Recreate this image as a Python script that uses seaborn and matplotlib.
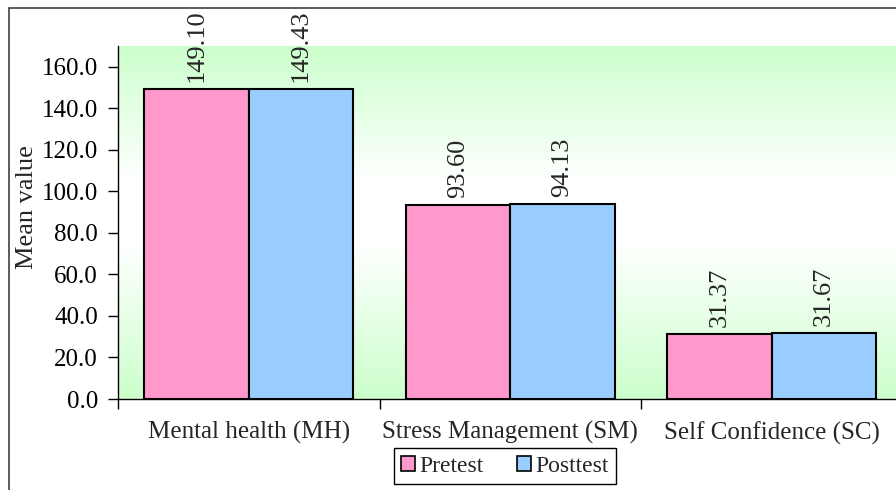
import numpy as np
import pandas as pd
import matplotlib
matplotlib.use("Agg")
import matplotlib.pyplot as plt
from matplotlib.colors import LinearSegmentedColormap
from matplotlib.patches import Rectangle
import seaborn as sns

# Mean scores per domain, before and after the intervention
domains = ["Mental health (MH)", "Stress Management (SM)", "Self Confidence (SC)"]
pretest = [149.10, 93.60, 31.37]
posttest = [149.43, 94.13, 31.67]
groups = ["Pretest", "Posttest"]
bar_colors = ["#FF99CC", "#99CCFF"]
y_ticks = [0, 20, 40, 60, 80, 100, 120, 140, 160]

df = pd.DataFrame({
    "Domain": domains * 2,
    "Mean": pretest + posttest,
    "Test": [groups[0]] * len(domains) + [groups[1]] * len(domains),
})

sns.set_style("ticks")
plt.rcParams["font.family"] = ["Liberation Serif", "DejaVu Serif"]
plt.rcParams["axes.linewidth"] = 1.0

fig = plt.figure(figsize=(8.96, 4.90), dpi=100)
ax = fig.add_axes([118 / 896, 91 / 490, 784.5 / 896, 353 / 490])

# soft green-white-green backdrop of the plotting area
ymax = 170
cmap = LinearSegmentedColormap.from_list(
    "bg", [(0.0, "#CCFFCC"), (0.38, "#FFFFFF"), (0.56, "#FFFFFF"), (1.0, "#CCFFCC")]
)
grad = np.linspace(0, 1, 256).reshape(-1, 1)
ax.imshow(grad, extent=[-0.5, 2.5, 0, ymax], aspect="auto", cmap=cmap,
          origin="upper", zorder=0, interpolation="bilinear")

sns.barplot(data=df, x="Domain", y="Mean", hue="Test", palette=bar_colors,
            saturation=1, edgecolor="black", linewidth=1.5, width=0.8, ax=ax, zorder=2)

for cont in ax.containers:
    ax.bar_label(cont, fmt="%.2f", rotation=90, padding=5, fontsize=19)

ax.set_xlim(-0.5, 2.5)
ax.set_ylim(0, ymax)
ax.set_yticks(y_ticks)
ax.set_yticklabels([f"{v:.1f}" for v in y_ticks], fontsize=18)
ax.tick_params(axis="y", direction="out", length=7, width=1, colors="black", pad=7.5)

# category labels centred under groups, tick marks between groups
ax.set_xticks(range(len(domains)))
ax.set_xticklabels(domains, fontsize=18)
ax.set_xticks([-0.5, 0.5, 1.5, 2.5], minor=True)
ax.tick_params(axis="x", which="major", length=0, pad=16)
ax.tick_params(axis="x", which="minor", direction="out", length=7, width=1, colors="black")

ax.set_xlabel("")
ax.set_ylabel("Mean value", fontsize=19)
ax.yaxis.set_label_coords(-0.102, 0.544)

for side in ["top", "right"]:
    ax.spines[side].set_visible(False)
for side in ["left", "bottom"]:
    ax.spines[side].set_color("black")
    ax.spines[side].set_linewidth(1.0)

leg = ax.get_legend()
if leg is not None:
    leg.remove()
handles = [Rectangle((0, 0), 1, 1, facecolor=c, edgecolor="black", linewidth=1.2)
           for c in bar_colors]
fig.legend(handles, groups, loc="center", bbox_to_anchor=(505 / 896, 1 - 466 / 490),
           ncol=2, fontsize=17, frameon=True, fancybox=False, edgecolor="black",
           handlelength=0.6, handleheight=0.6, handletextpad=0.2, columnspacing=1.4,
           borderpad=0.3, borderaxespad=0, framealpha=1)
fig.legends[-1].get_frame().set_linewidth(1.0)

# outer frame of the chart
fig.patches.append(Rectangle((9 / 896, -0.1), 1.2, 1 - 8 / 490 + 0.1,
                             transform=fig.transFigure, fill=False,
                             edgecolor="#404040", linewidth=1.2))

fig.savefig("out.png", dpi=100)
